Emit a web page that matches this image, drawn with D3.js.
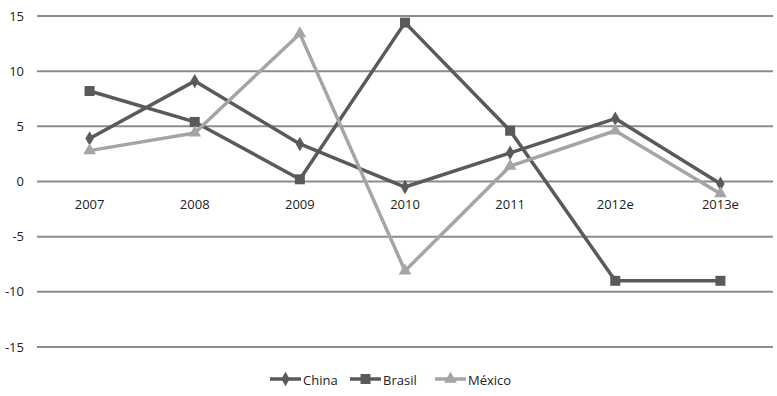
<!DOCTYPE html>
<html>
<head>
<meta charset="utf-8">
<script src="https://cdn.jsdelivr.net/npm/d3@7"></script>
<style>
  body { margin: 0; background: #fff; }
  text { font-family: "Open Sans", Lato, sans-serif; fill: #222; }
</style>
</head>
<body>
<div id="chart"></div>
<script>
var years = ["2007", "2008", "2009", "2010", "2011", "2012e", "2013e"];
var china = [3.9, 9.1, 3.4, -0.5, 2.6, 5.7, -0.2];
var brasil = [8.2, 5.4, 0.2, 14.4, 4.6, -9.0, -9.0];
var mexico = [2.8, 4.4, 13.4, -8.1, 1.4, 4.6, -1.1];
var yTicks = [15, 10, 5, 0, -5, -10, -15];

var series = [
    { name: "China", values: china, color: "#5a5a5a", symbol: d3.symbolDiamond, size: 60 },
    { name: "Brasil", values: brasil, color: "#5a5a5a", symbol: d3.symbolSquare, size: 100 },
    { name: "México", values: mexico, color: "#a5a5a5", symbol: d3.symbolTriangle, size: 70 }
];

var width = 777, height = 396;
var left = 37, right = 773;

var svg = d3.select("#chart")
    .append("svg")
    .attr("width", width)
    .attr("height", height);

var x = d3.scalePoint()
    .domain(years)
    .range([left, right])
    .padding(0.5);

var y = d3.scaleLinear()
    .domain([-15, 15])
    .range([347, 16]);

// gridlines
svg.append("g")
    .selectAll("line")
    .data(yTicks)
    .enter()
    .append("line")
    .attr("x1", left)
    .attr("x2", right)
    .attr("y1", function(d){ return y(d); })
    .attr("y2", function(d){ return y(d); })
    .attr("stroke", "#8c8c8c")
    .attr("stroke-width", 2);

// y labels
svg.append("g")
    .selectAll("text")
    .data(yTicks)
    .enter()
    .append("text")
    .attr("x", 24)
    .attr("y", function(d){ return y(d) + 4.5; })
    .attr("text-anchor", "end")
    .attr("font-size", 13)
    .text(function(d){ return d; });

// x labels
svg.append("g")
    .selectAll("text")
    .data(years)
    .enter()
    .append("text")
    .attr("x", function(d){ return x(d); })
    .attr("y", y(0) + 27)
    .attr("text-anchor", "middle")
    .attr("font-size", 13)
    .text(function(d){ return d; });

var line = d3.line()
    .x(function(d, i){ return x(years[i]); })
    .y(function(d){ return y(d); });

series.forEach(function(s){
    var g = svg.append("g");
    g.append("path")
        .datum(s.values)
        .attr("d", line)
        .attr("fill", "none")
        .attr("stroke", s.color)
        .attr("stroke-width", 3.5)
        .attr("stroke-linejoin", "round");
    g.selectAll("path.mark")
        .data(s.values)
        .enter()
        .append("path")
        .attr("class", "mark")
        .attr("d", d3.symbol().type(s.symbol).size(s.size))
        .attr("transform", function(d, i){ return "translate(" + x(years[i]) + "," + y(d) + ")"; })
        .attr("fill", s.color);
});

// legend
var legendX = [270, 350, 435];
var legend = svg.append("g");
series.forEach(function(s, i){
    var lg = legend.append("g").attr("transform", "translate(" + legendX[i] + ",379)");
    lg.append("line")
        .attr("x1", 0).attr("x2", 31)
        .attr("stroke", s.color)
        .attr("stroke-width", 3.5);
    lg.append("path")
        .attr("d", d3.symbol().type(s.symbol).size(s.size))
        .attr("transform", "translate(15.5,0)")
        .attr("fill", s.color);
    lg.append("text")
        .attr("x", 33)
        .attr("y", 5.5)
        .attr("font-size", 13)
        .text(s.name);
});
</script>
</body>
</html>
